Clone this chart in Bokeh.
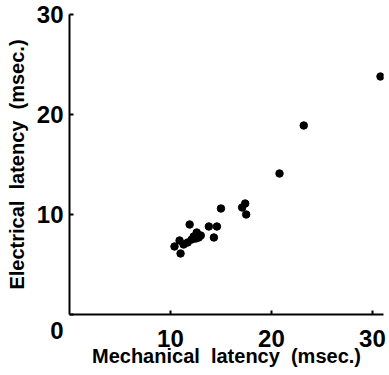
from bokeh.plotting import figure
from bokeh.models import Range1d, FixedTicker
from bokeh.embed import file_html
from bokeh.resources import INLINE

mechanical = [10.4, 11.0, 10.9, 11.3, 11.9, 11.7, 12.1, 12.3, 12.6, 12.5, 12.8, 13.0,
              13.8, 14.3, 14.6, 15.0, 17.1, 17.4, 17.5, 20.8, 23.2, 30.8]
electrical = [6.8, 6.1, 7.4, 7.0, 9.0, 7.2, 7.5, 7.8, 8.2, 7.6, 7.7, 7.9,
              8.8, 7.7, 8.8, 10.6, 10.7, 11.1, 10.0, 14.1, 18.9, 23.8]
x_ticks = [10, 20, 30]
y_ticks = [0, 10, 20, 30]
NB = "\u00a0"
x_title = "Mechanical" + NB + NB + "latency" + NB + NB + "(msec.)"
y_title = "Electrical" + NB + NB + "latency" + NB + NB + "(msec.)"
origin_label = "\n0"

FONT = "Liberation Sans"

p = figure(width=389, height=375, output_backend="svg", toolbar_location=None,
           x_range=Range1d(0, 31.1), y_range=Range1d(0, 30),
           min_border_left=69, min_border_right=6, min_border_top=14, min_border_bottom=61)
p.outline_line_color = None
p.xgrid.grid_line_color = None
p.ygrid.grid_line_color = None
p.background_fill_color = "white"
p.border_fill_color = "white"

p.scatter(mechanical, electrical, size=7.5, color="black")

for ax, ticks in ((p.xaxis[0], x_ticks), (p.yaxis[0], y_ticks)):
    ax.ticker = FixedTicker(ticks=ticks)
    ax.minor_tick_line_color = None
    ax.major_tick_in = 4
    ax.major_tick_out = 0
    ax.major_tick_line_width = 2
    ax.axis_line_width = 2
    ax.axis_line_color = "black"
    ax.major_tick_line_color = "black"
    ax.major_label_text_font = FONT
    ax.major_label_text_font_size = "24px"
    ax.major_label_text_font_style = "bold"
    ax.major_label_text_color = "black"
    ax.axis_label_text_font = FONT
    ax.axis_label_text_font_size = "20px"
    ax.axis_label_text_font_style = "bold"
    ax.axis_label_text_color = "black"

p.yaxis[0].major_label_overrides = {0: origin_label}
p.xaxis[0].axis_label = x_title
p.yaxis[0].axis_label = y_title
p.xaxis[0].major_label_standoff = 15
p.xaxis[0].axis_label_standoff = -5
p.yaxis[0].major_label_standoff = 6
p.yaxis[0].axis_label_standoff = 6

open("out.html", "w").write(file_html(p, INLINE))
